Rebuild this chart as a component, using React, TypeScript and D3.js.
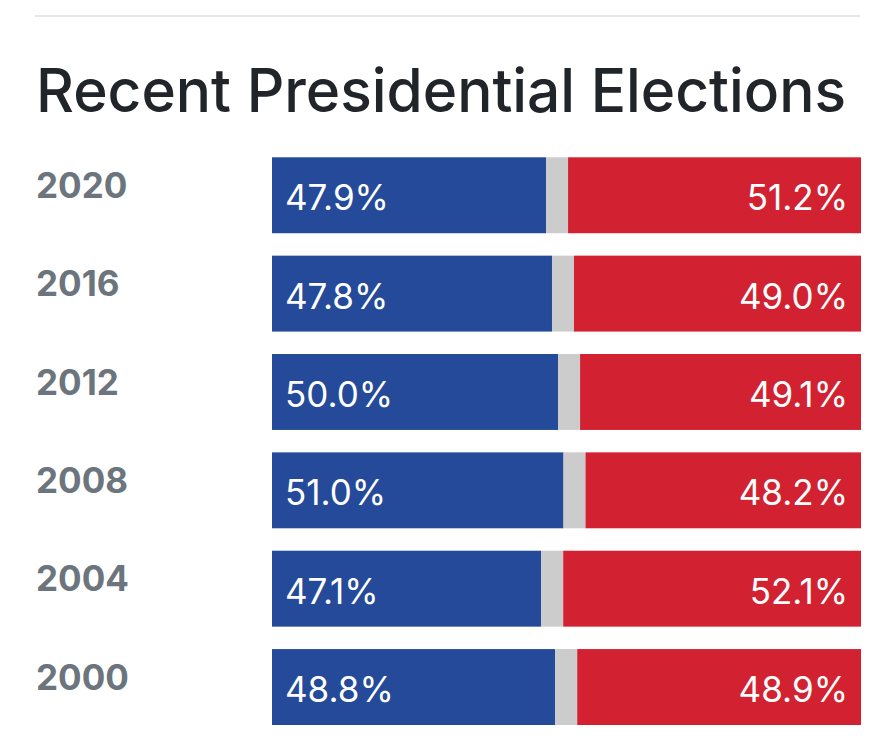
import React from "react";
import * as d3 from "d3";

const years = ["2020", "2016", "2012", "2008", "2004", "2000"];
const demValues = [47.9, 47.8, 50.0, 51.0, 47.1, 48.8];
const repValues = [51.2, 49.0, 49.1, 48.2, 52.1, 48.9];
const title = "Recent Presidential Elections";

const W = 895;
const H = 750;
const barLeft = 272;
const barRight = 861;
const gap = 22;
const font = "Inter, 'Noto Sans', sans-serif";

export default function App() {
  const y = d3
    .scaleBand<string>()
    .domain(years)
    .range([157.3, 725])
    .paddingInner(0.228)
    .paddingOuter(0);
  const bw = y.bandwidth();

  return (
    <svg
      width={W}
      height={H}
      style={{ position: "absolute", left: 0, top: 0, background: "#fff" }}
    >
      <rect x={35} y={15} width={825} height={2} fill="#e6e7e8" />
      <text
        x={36}
        y={112}
        fontFamily={font}
        fontSize={60}
        fill="#212529"
        fontWeight={500}
        textLength={810}
        lengthAdjust="spacingAndGlyphs"
      >
        {title}
      </text>
      {years.map((yr, i) => {
        const d = demValues[i];
        const r = repValues[i];
        const x = d3
          .scaleLinear()
          .domain([0, d + r])
          .range([0, barRight - barLeft - gap]);
        const y0 = y(yr) as number;
        const dw = x(d);
        const rw = x(r);
        return (
          <g key={yr}>
            <text
              x={36}
              y={y0 + 40.5}
              fontFamily={font}
              fontSize={35}
              fontWeight={700}
              fill="#6c757d"
            >
              {yr}
            </text>
            <rect x={barLeft} y={y0} width={dw} height={bw} fill="#244a99" />
            <rect x={barLeft + dw} y={y0} width={gap} height={bw} fill="#cccccc" />
            <rect
              x={barLeft + dw + gap}
              y={y0}
              width={rw}
              height={bw}
              fill="#d22231"
            />
            <text
              x={barLeft + 13}
              y={y0 + 53}
              fontFamily={font}
              fontSize={35}
              fill="#ffffff"
            >
              {d.toFixed(1)}%
            </text>
            <text
              x={barRight - 13}
              y={y0 + 53}
              fontFamily={font}
              fontSize={35}
              fill="#ffffff"
              textAnchor="end"
            >
              {r.toFixed(1)}%
            </text>
          </g>
        );
      })}
    </svg>
  );
}
